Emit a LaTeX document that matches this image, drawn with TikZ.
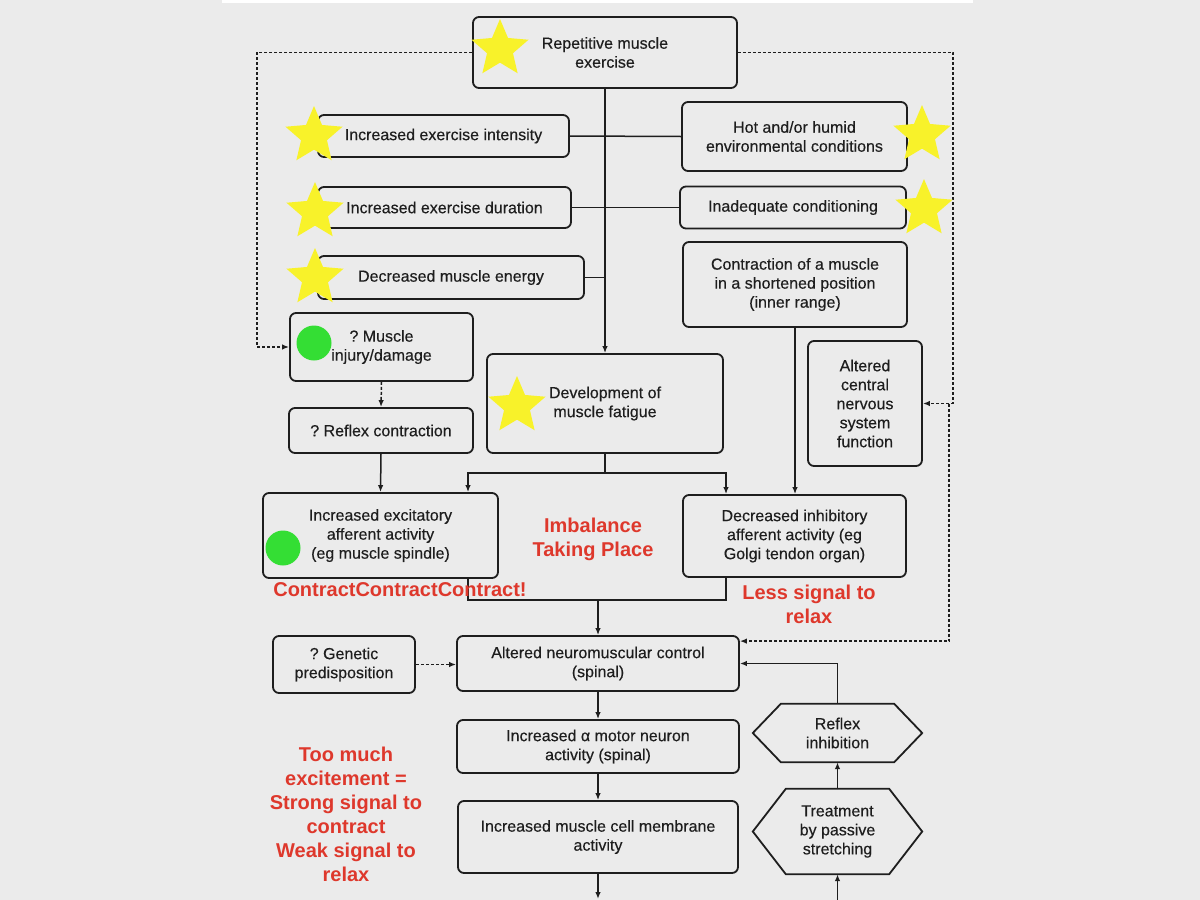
\documentclass[tikz,border=0pt]{standalone}
\usepackage{fontspec}
\setmainfont{Liberation Sans}
\newfontfamily\boxfont{Liberation Sans}[FakeBold=0.35]
\usetikzlibrary{arrows.meta,shapes.geometric}
\definecolor{bg}{RGB}{235,235,235}
\definecolor{ink}{RGB}{30,30,30}
\definecolor{myred}{RGB}{222,56,44}
\definecolor{staryel}{RGB}{248,242,42}
\definecolor{dotgreen}{RGB}{52,222,52}
\frenchspacing
\tikzset{
  box/.style={draw=ink, line width=1.8pt, rounded corners=6pt, align=center, inner sep=0pt,
    text=ink, font=\boxfont\fontsize{16}{19}\selectfont},
  hexin/.style={draw=none, align=center, inner sep=0pt, text=ink, font=\boxfont\fontsize{16}{19}\selectfont},
  hexline/.style={draw=ink, line width=1.8pt, line join=miter},
  conn/.style={draw=ink, line width=1.5pt},
  arr/.style={conn, -{Latex[length=7pt,width=5.5pt]}},
  dsh/.style={dash pattern=on 3pt off 2pt},
  redtxt/.style={text=myred, align=center, font=\bfseries\fontsize{20}{24}\selectfont},
  ystar/.style={star, star points=5, star point ratio=2.2, fill=staryel, draw=none, inner sep=0pt, minimum size=60pt},
  gdot/.style={circle, fill=dotgreen, draw=none, inner sep=0pt, minimum size=35pt}
}
\begin{document}
\begin{tikzpicture}[x=1pt,y=-1pt]
\useasboundingbox (0,0) rectangle (1200,900);
\fill[bg] (0,0) rectangle (1200,900);
\fill[white] (222,0) rectangle (973,2.5);

% boxes
\node[box, minimum width=264pt, minimum height=71pt] (rep) at (605,52.5) {Repetitive muscle\\exercise};
\node[box, minimum width=251pt, minimum height=42pt] (int) at (443.5,136) {Increased exercise intensity};
\node[box, minimum width=253pt, minimum height=41pt] (dur) at (444.5,207.5) {Increased exercise duration};
\node[box, minimum width=266pt, minimum height=43pt] (ene) at (451,277.5) {Decreased muscle energy};
\node[box, minimum width=225pt, minimum height=69pt] (hot) at (794.5,136.5) {Hot and/or humid\\environmental conditions};
\node[box, minimum width=226pt, minimum height=42pt] (inad) at (793,207.5) {Inadequate conditioning};
\node[box, minimum width=224pt, minimum height=85pt] (contr) at (795,284.5) {Contraction of a muscle\\in a shortened position\\(inner range)};
\node[box, minimum width=183pt, minimum height=68pt] (inj) at (381.5,347) {? Muscle\\injury/damage};
\node[box, minimum width=184pt, minimum height=45pt] (refl) at (381,430.5) {? Reflex contraction};
\node[box, minimum width=236pt, minimum height=99pt] (fat) at (605,403.5) {Development of\\muscle fatigue};
\node[box, minimum width=114pt, minimum height=125pt] (cns) at (865,403.5) {Altered\\central\\nervous\\system\\function};
\node[box, minimum width=235pt, minimum height=85pt] (exc) at (380.5,535.5) {Increased excitatory\\afferent activity\\(eg muscle spindle)};
\node[box, minimum width=223pt, minimum height=82pt] (dec) at (794.5,536) {Decreased inhibitory\\afferent activity (eg\\Golgi tendon organ)};
\node[box, minimum width=142pt, minimum height=57pt] (gen) at (344,664.5) {? Genetic\\predisposition};
\node[box, minimum width=282pt, minimum height=55pt] (anc) at (598,663.5) {Altered neuromuscular control\\(spinal)};
\node[box, minimum width=282pt, minimum height=53pt] (amn) at (598,746.5) {Increased α motor neuron\\activity (spinal)};
\node[box, minimum width=280pt, minimum height=72pt] (mem) at (598,837) {Increased muscle cell membrane\\activity};

% hexagons
\node[hexin, minimum width=113pt, minimum height=58pt] (rinh) at (837.5,733) {Reflex\\inhibition};
\draw[hexline] (rinh.north west) -- (rinh.north east) -- ([xshift=28pt]rinh.east) -- (rinh.south east) -- (rinh.south west) -- ([xshift=-28pt]rinh.west) -- cycle;
\node[hexin, minimum width=103pt, minimum height=85pt] (treat) at (837.5,831.5) {Treatment\\by passive\\stretching};
\draw[hexline] (treat.north west) -- (treat.north east) -- ([xshift=33pt]treat.east) -- (treat.south east) -- (treat.south west) -- ([xshift=-33pt]treat.west) -- cycle;

% coordinates
\coordinate (dl) at (257,0);
\coordinate (dr) at (953,0);
\coordinate (dr2) at (949,0);
\coordinate (sl) at (468,473);
\coordinate (sr) at (726,473);
\coordinate (ml) at (468,600);
\coordinate (mr) at (726,600);
\coordinate (bot) at (0,899);
\coordinate (bot2) at (0,902);

% connectors
\draw[arr] (rep.south) -- (fat.north);
\draw[conn] (int.east) -- (hot.west);
\draw[conn] (dur.east) -- (inad.west);
\draw[conn] (ene.east) -- (ene.east -| rep.south);
\draw[arr, dsh] (rep.west) -| (dl |- inj.west) -- (inj.west);
\draw[arr, dsh] (rep.east) -| (dr |- cns.east) -- (cns.east);
\draw[arr, dsh] (dr2 |- cns.east) |- ([yshift=-6pt]anc.north east);
\draw[arr, dsh] (inj.south) -- (refl.north);
\draw[arr] (refl.south) -- (exc.north);
\draw[conn] (fat.south) -- (fat.south |- sl);
\draw[arr] (fat.south |- sl) -- (sl) -- (sl |- exc.north);
\draw[arr] (fat.south |- sl) -- (sr) -- (sr |- dec.north);
\draw[arr] (contr.south) -- (contr.south |- dec.north);
\draw[conn] (ml |- exc.south) -- (ml) -- (mr) -- (mr |- dec.south);
\draw[arr] (anc.north |- ml) -- (anc.north);
\draw[arr, dsh] (gen.east) -- (gen.east -| anc.west);
\draw[arr] (anc.south) -- (amn.north);
\draw[arr] (amn.south) -- (mem.north);
\draw[arr] (mem.south) -- (mem.south |- bot);
\draw[arr] (treat.north) -- (rinh.south);
\draw[arr] (rinh.north) |- (anc.east);
\draw[arr] (treat.south |- bot2) -- (treat.south);

% stars and dots
\node[ystar] (st1) at (500,49) {};
\node[ystar] (st2) at (314,136) {};
\node[ystar] (st3) at (315,212) {};
\node[ystar] (st4) at (315,278) {};
\node[ystar] (st5) at (922,135) {};
\node[ystar] (st6) at (924,209) {};
\node[ystar] (st7) at (517,406) {};
\node[gdot] (g1) at (314,343) {};
\node[gdot] (g2) at (283,548) {};

% red annotations
\node[redtxt] (t1) at (593,539) {Imbalance\\Taking Place};
\node[redtxt] (t2) at (400,590) {ContractContractContract!};
\node[redtxt] (t3) at (809,604) {Less signal to\\relax};
\node[redtxt] (t4) at (346,814) {Too much\\excitement =\\Strong signal to\\contract\\Weak signal to\\relax};
\end{tikzpicture}
\end{document}
